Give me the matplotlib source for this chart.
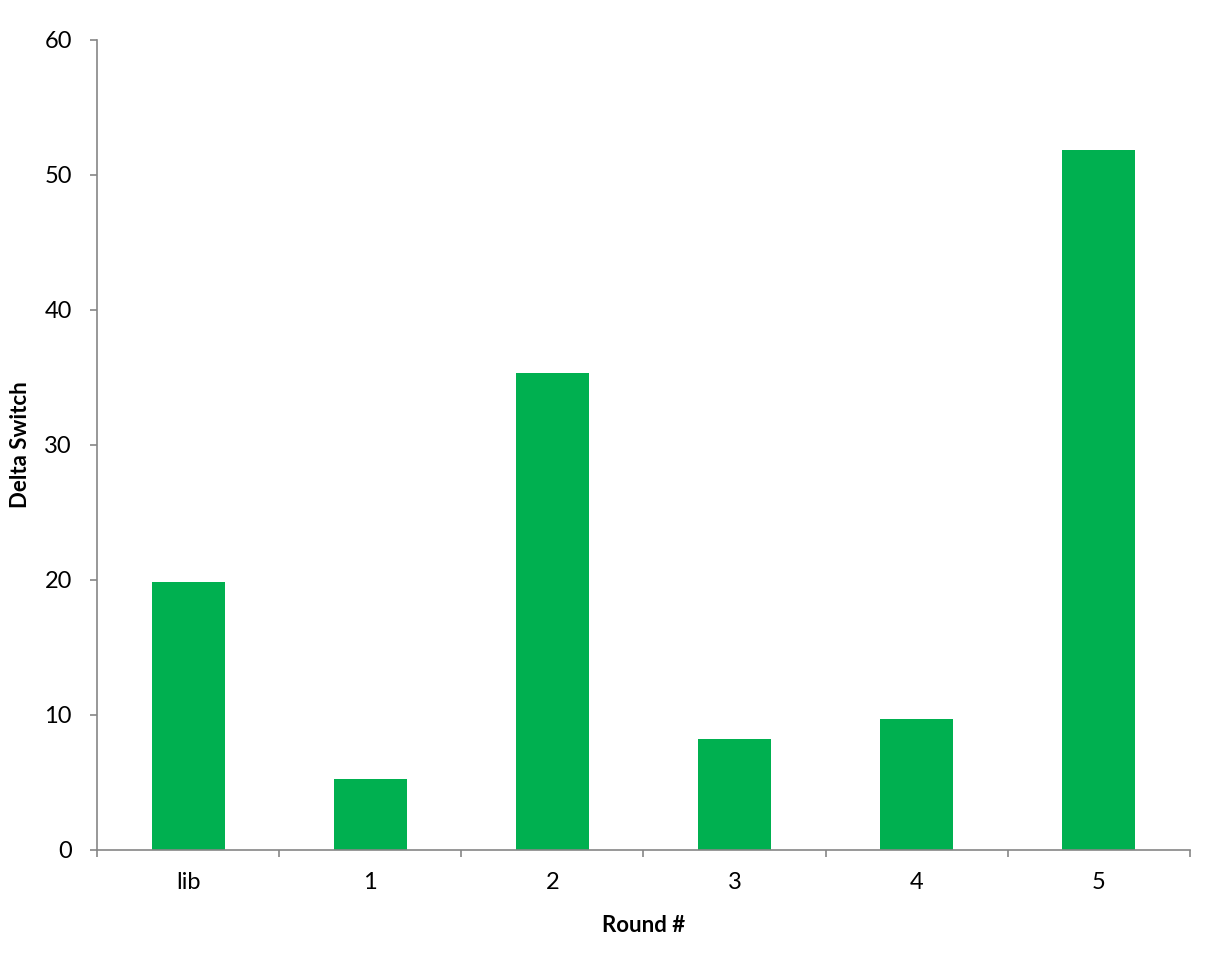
import matplotlib
matplotlib.use("Agg")
import matplotlib.pyplot as plt
import numpy as np

categories = ["lib", "1", "2", "3", "4", "5"]
delta_switch = [19.8, 5.2, 35.3, 8.2, 9.7, 51.8]
y_ticks = [0, 10, 20, 30, 40, 50, 60]

plt.rcParams['font.family'] = ['Lato', 'DejaVu Sans']

fig = plt.figure(figsize=(12.08, 9.68), dpi=100)
ax = fig.add_axes([0.0803, 0.1224, 0.9047, 0.8366])

x = np.arange(len(categories))
ax.bar(x, delta_switch, width=0.4, color="#00B050", zorder=2)

ax.set_xlim(-0.5, len(categories) - 0.5)
ax.set_ylim(0, 60)
ax.set_yticks(y_ticks)
ax.set_yticklabels([str(v) for v in y_ticks], fontsize=17)

ax.set_xticks(x)
ax.set_xticklabels(categories, fontsize=17)
ax.set_xticks(np.arange(-0.5, len(categories)), minor=True)
ax.tick_params(axis="x", which="major", length=0, pad=16)
ax.tick_params(axis="x", which="minor", length=5, width=1.2, color="#868686", direction="out")
ax.tick_params(axis="y", length=5, width=1.2, color="#868686", direction="out", pad=13)

for side in ("top", "right"):
    ax.spines[side].set_visible(False)
for side in ("left", "bottom"):
    ax.spines[side].set_color("#868686")
    ax.spines[side].set_linewidth(1.2)

ax.set_xlabel("Round #", fontsize=16, fontweight="bold")
ax.xaxis.set_label_coords(0.5, (849.5 - 925) / 810, transform=ax.transAxes)
ax.xaxis.label.set_va("center")
ax.set_ylabel("Delta Switch", fontsize=16, fontweight="bold")
ax.yaxis.set_label_coords((20 - 97) / 1093, 0.5, transform=ax.transAxes)
ax.yaxis.label.set_va("center")

fig.savefig("out.png", dpi=100)
